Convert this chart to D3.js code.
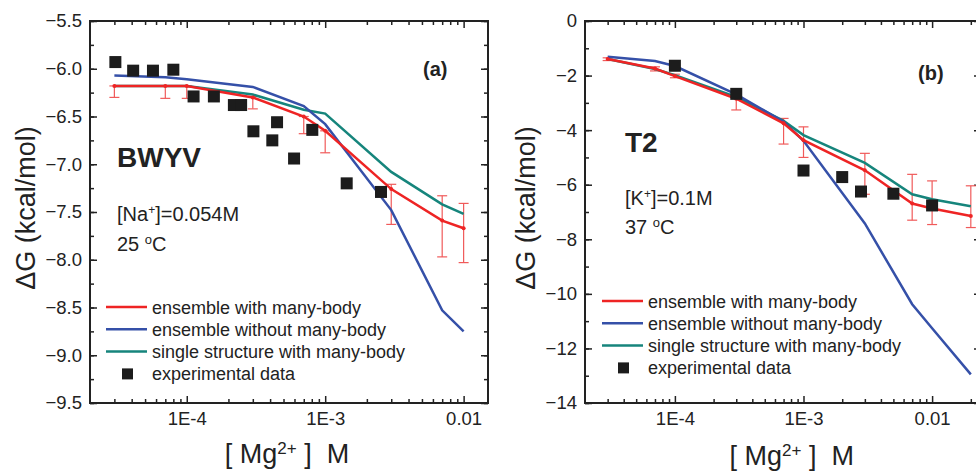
<!DOCTYPE html>
<html>
<head>
<meta charset="utf-8">
<script src="https://cdn.jsdelivr.net/npm/d3@7"></script>
<style>
  body { margin: 0; background: #fff; }
  svg { font-family: "Liberation Sans", Arial, sans-serif; }
  .tick text { font-size: 18.5px; fill: #222; }
  .tick line { stroke: #222; stroke-width: 1.5; }
  .lbl { fill: #222; white-space: pre; }
</style>
</head>
<body>
<svg id="chart" width="976" height="472"></svg>
<script>
// ---- data, panel (a) BWYV ----
const simXA = [3e-5, 7e-5, 1e-4, 3e-4, 7e-4, 1e-3, 3e-3, 7e-3, 1e-2];
const redA  = [-6.18, -6.18, -6.18, -6.30, -6.50, -6.65, -7.26, -7.59, -7.67];
const blueA = [-6.07, -6.09, -6.11, -6.19, -6.39, -6.58, -7.48, -8.53, -8.75];
const tealA = [-6.18, -6.18, -6.18, -6.27, -6.43, -6.47, -7.08, -7.42, -7.52];
const errTopA = [-6.18, -6.18, -6.18, -6.29, -6.50, -6.65, -7.21, -7.33, -7.41];
const errBotA = [-6.30, -6.31, -6.31, -6.42, -6.68, -6.88, -7.63, -7.97, -8.03];
const expXA = [3.05e-5, 4.1e-5, 5.7e-5, 8e-5, 1.12e-4, 1.57e-4, 2.19e-4, 2.47e-4,
               3.03e-4, 4.15e-4, 4.49e-4, 5.96e-4, 8.07e-4, 1.43e-3, 2.53e-3];
const expYA = [-5.93, -6.02, -6.02, -6.01, -6.29, -6.29, -6.38, -6.38,
               -6.655, -6.75, -6.56, -6.94, -6.64, -7.20, -7.29];
const yTicksA = [-5.5, -6.0, -6.5, -7.0, -7.5, -8.0, -8.5, -9.0, -9.5];

// ---- data, panel (b) T2 ----
const simXB = [3e-5, 7e-5, 1e-4, 3e-4, 7e-4, 1e-3, 3e-3, 7e-3, 1e-2, 2e-2];
const redB  = [-1.39, -1.74, -2.02, -2.85, -3.75, -4.37, -5.47, -6.69, -6.87, -7.15];
const blueB = [-1.31, -1.47, -1.65, -2.69, -3.69, -4.39, -7.42, -10.38, -11.26, -12.95];
const tealB = [-1.39, -1.76, -1.99, -2.78, -3.66, -4.18, -5.20, -6.35, -6.53, -6.79];
const errTopB = [-1.35, -1.68, -1.95, -2.60, -3.57, -3.88, -4.85, -5.62, -5.86, -6.04];
const errBotB = [-1.45, -1.83, -2.08, -3.26, -4.51, -5.00, -6.35, -7.30, -7.46, -7.57];
const expXB = [1e-4, 3e-4, 1e-3, 2e-3, 2.8e-3, 5e-3, 1e-2];
const expYB = [-1.64, -2.67, -5.48, -5.72, -6.25, -6.33, -6.76];
const yTicksB = [0, -2, -4, -6, -8, -10, -12, -14];

const xTickVals = [1e-4, 1e-3, 1e-2];
const xTickLabels = ["1E-4", "1E-3", "0.01"];
const legendLabels = ["ensemble with many-body", "ensemble without many-body",
                      "single structure with many-body", "experimental data"];
const colors = {red: "#ee2424", blue: "#3550a8", teal: "#16857c", err: "#f05a5a", sq: "#1c1c1c"};

const svg = d3.select("#chart");

function drawPanel(p) {
  const g = svg.append("g");
  const x = d3.scaleLog().domain(p.xDomain).range(p.xRange);
  const y = d3.scaleLinear().domain(p.yDomain).range(p.yRange);
  const [x0, x1] = p.xRange, [y1, y0] = p.yRange;

  // minor x ticks (2..9 per decade)
  let minorX = [];
  for (let d = 1e-5; d < 1; d *= 10) {
    for (let k = 2; k <= 9; k++) {
      const v = k * d;
      if (v > p.xDomain[0] && v < p.xDomain[1]) minorX.push(v);
    }
  }
  const yMinor = d3.range(p.yDomain[0], p.yDomain[1] + 1e-9, p.yMinorStep);

  // bottom axis
  g.append("g").attr("transform", `translate(0,${y1})`)
    .call(d3.axisBottom(x).tickValues(xTickVals).tickSize(-7).tickPadding(9)
      .tickFormat((d, i) => xTickLabels[i]))
    .call(a => a.select(".domain").remove());
  g.append("g").attr("transform", `translate(0,${y1})`)
    .call(d3.axisBottom(x).tickValues(minorX).tickSize(-4).tickFormat(""))
    .call(a => a.select(".domain").remove());
  // top axis
  g.append("g").attr("transform", `translate(0,${y0})`)
    .call(d3.axisTop(x).tickValues(xTickVals).tickSize(-7).tickFormat(""))
    .call(a => a.select(".domain").remove());
  g.append("g").attr("transform", `translate(0,${y0})`)
    .call(d3.axisTop(x).tickValues(minorX).tickSize(-4).tickFormat(""))
    .call(a => a.select(".domain").remove());
  // left axis
  g.append("g").attr("transform", `translate(${x0},0)`)
    .call(d3.axisLeft(y).tickValues(p.yTicks).tickSize(-7).tickPadding(8)
      .tickFormat(p.yFormat))
    .call(a => a.select(".domain").remove());
  g.append("g").attr("transform", `translate(${x0},0)`)
    .call(d3.axisLeft(y).tickValues(yMinor).tickSize(-4).tickFormat(""))
    .call(a => a.select(".domain").remove());
  // right axis
  g.append("g").attr("transform", `translate(${x1},0)`)
    .call(d3.axisRight(y).tickValues(p.yTicks).tickSize(-7).tickFormat(""))
    .call(a => a.select(".domain").remove());
  g.append("g").attr("transform", `translate(${x1},0)`)
    .call(d3.axisRight(y).tickValues(yMinor).tickSize(-4).tickFormat(""))
    .call(a => a.select(".domain").remove());

  g.append("rect").attr("x", x0).attr("y", y0)
    .attr("width", x1 - x0).attr("height", y1 - y0)
    .attr("fill", "none").attr("stroke", "#222").attr("stroke-width", 2);

  const line = d3.line().x(d => x(d[0])).y(d => y(d[1]));

  // error bars
  const eb = g.append("g").attr("stroke", colors.err).attr("stroke-width", 1.2);
  p.simX.forEach((v, i) => {
    const cx = x(v), t = y(p.errTop[i]), b = y(p.errBot[i]);
    eb.append("line").attr("x1", cx).attr("x2", cx).attr("y1", t).attr("y2", b);
    eb.append("line").attr("x1", cx - 5).attr("x2", cx + 5).attr("y1", t).attr("y2", t);
    eb.append("line").attr("x1", cx - 5).attr("x2", cx + 5).attr("y1", b).attr("y2", b);
  });

  [[p.teal, colors.teal], [p.blue, colors.blue], [p.red, colors.red]].forEach(([vals, c]) => {
    g.append("path").datum(p.simX.map((v, i) => [v, vals[i]]))
      .attr("d", line).attr("fill", "none").attr("stroke", c).attr("stroke-width", 2.5);
  });
  g.selectAll(".rdot").data(p.simX).enter().append("circle")
    .attr("cx", d => x(d)).attr("cy", (d, i) => y(p.red[i])).attr("r", 2).attr("fill", colors.red);

  // experimental squares
  g.selectAll(".sq").data(p.expX).enter().append("rect")
    .attr("x", d => x(d) - 6).attr("y", (d, i) => y(p.expY[i]) - 6)
    .attr("width", 12).attr("height", 12).attr("fill", colors.sq);

  // legend
  const lg = g.append("g");
  const lc = [colors.red, colors.blue, colors.teal];
  legendLabels.forEach((t, i) => {
    const ly = p.legY + i * 22.3;
    if (i < 3) {
      lg.append("line").attr("x1", p.legX).attr("x2", p.legX + 41)
        .attr("y1", ly).attr("y2", ly).attr("stroke", lc[i]).attr("stroke-width", 2.5);
    } else {
      lg.append("rect").attr("x", p.legX + 16).attr("y", ly - 5.5)
        .attr("width", 11).attr("height", 11).attr("fill", colors.sq);
    }
    lg.append("text").attr("class", "lbl").attr("x", p.legX + 46).attr("y", ly + 6.5)
      .attr("font-size", 18).text(t);
  });

  // texts
  g.append("text").attr("class", "lbl").attr("x", p.tagX).attr("y", p.tagY)
    .attr("font-size", 20).attr("font-weight", "bold").text(p.tag);
  g.append("text").attr("class", "lbl").attr("x", p.nameX).attr("y", p.nameY)
    .attr("font-size", 28).attr("font-weight", "bold").text(p.name);
  const ion = g.append("text").attr("class", "lbl").attr("x", p.nameX).attr("y", p.ionY)
    .attr("font-size", 20);
  ion.append("tspan").text("[" + p.ion);
  ion.append("tspan").attr("baseline-shift", "super").attr("font-size", 12).text("+");
  ion.append("tspan").text("]=" + p.conc);
  const tmp = g.append("text").attr("class", "lbl").attr("x", p.nameX).attr("y", p.tempY)
    .attr("font-size", 20);
  tmp.append("tspan").text(p.temp + " ");
  tmp.append("tspan").attr("baseline-shift", "super").attr("font-size", 13).text("o");
  tmp.append("tspan").text("C");

  g.append("text").attr("class", "lbl")
    .attr("transform", `translate(${p.yTitleX},${(y0 + y1) / 2 - 4}) rotate(-90)`)
    .attr("text-anchor", "middle").attr("font-size", 27).text("\u0394G (kcal/mol)");
  const xt = g.append("text").attr("class", "lbl")
    .attr("x", x(p.xTitleAt)).attr("y", p.xTitleY).attr("text-anchor", "middle")
    .attr("font-size", 27);
  xt.append("tspan").text("[ Mg");
  xt.append("tspan").attr("baseline-shift", "super").attr("font-size", 17).text("2+");
  xt.append("tspan").text(" ]  M");
}

drawPanel({
  xDomain: [2e-5, 1.5e-2], xRange: [90, 488], yDomain: [-9.5, -5.5], yRange: [403, 21],
  yTicks: yTicksA, yMinorStep: 0.25, yFormat: d3.format(".1f"),
  simX: simXA, red: redA, blue: blueA, teal: tealA, errTop: errTopA, errBot: errBotA,
  expX: expXA, expY: expYA,
  legX: 106, legY: 307, tag: "(a)", tagX: 423, tagY: 76,
  name: "BWYV", nameX: 117, nameY: 167, ion: "Na", conc: "0.054M", ionY: 221,
  temp: "25", tempY: 251, yTitleX: 35, xTitleAt: 5.3e-4, xTitleY: 463
});
drawPanel({
  xDomain: [2e-5, 0.024], xRange: [585, 981], yDomain: [-14, 0], yRange: [403, 21],
  yTicks: yTicksB, yMinorStep: 1, yFormat: d3.format("d"),
  simX: simXB, red: redB, blue: blueB, teal: tealB, errTop: errTopB, errBot: errBotB,
  expX: expXB, expY: expYB,
  legX: 602, legY: 301, tag: "(b)", tagX: 918, tagY: 80,
  name: "T2", nameX: 625, nameY: 152, ion: "K", conc: "0.1M", ionY: 205,
  temp: "37", tempY: 234, yTitleX: 535, xTitleAt: 8.1e-4, xTitleY: 465
});
</script>
</body>
</html>
